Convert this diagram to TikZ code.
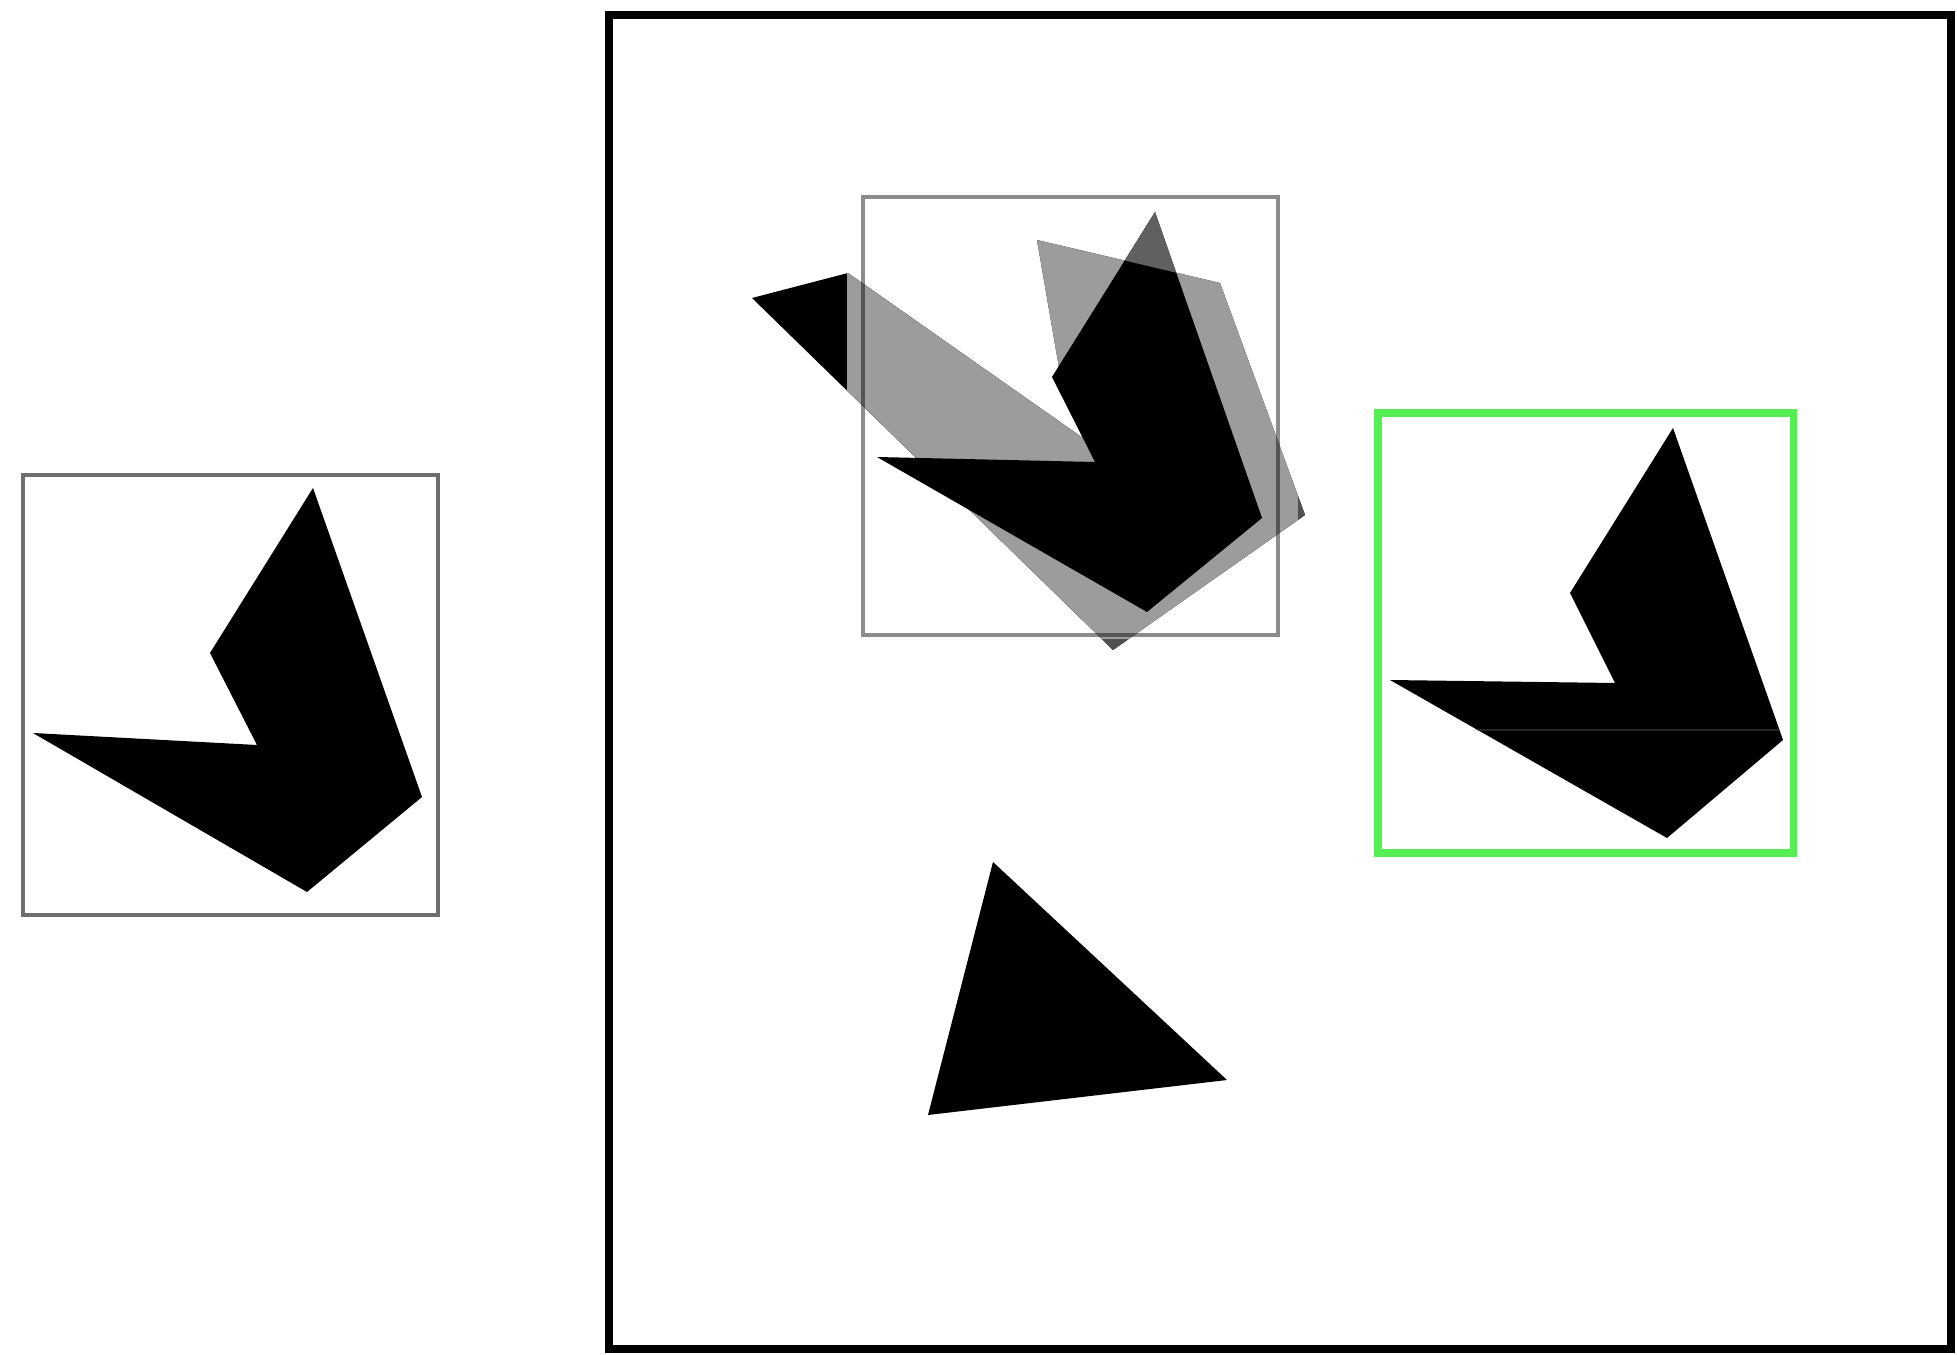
\documentclass[tikz,border=0pt]{standalone}
\definecolor{boxgrey}{RGB}{110,110,110}
\definecolor{softgrey}{RGB}{156,156,156}
\definecolor{darkbit}{RGB}{80,80,80}
\definecolor{tipgrey}{RGB}{96,96,96}
\definecolor{detgreen}{RGB}{85,238,85}
\begin{document}
\begin{tikzpicture}[x=0.01cm,y=-0.01cm,
  framebox/.style={draw=black,line width=2.3pt},
  refbox/.style={draw=boxgrey,line width=1.4pt},
  searchbox/.style={draw=black,opacity=0.45,line width=1.4pt},
  greenbox/.style={draw=detgreen,line width=2.0pt},
  solid shape/.style={fill=black}]
\useasboundingbox (0,0) rectangle (1957,1355);
\fill[white] (0,0) rectangle (1957,1355);

% left reference patch
\fill[solid shape] (313,488) -- (422,797) -- (307,892) -- (33,733) -- (257,745) -- (210,653) -- cycle;
\draw[refbox] (23,475) rectangle (438,915);

% big frame
\draw[framebox] (609,15) rectangle (1951,1349);

% shifted (ghost) shape S2
\def\ghost{(752,298) -- (848,273) -- (1100,450) -- (1062,385) -- (1037,240) -- (1220,283) -- (1305,515) -- (1113,650) -- cycle}
\fill[black] \ghost;
\begin{scope}
  \clip (847,190) rectangle (1298,640);
  \fill[softgrey] \ghost;
\end{scope}
\begin{scope}
  \clip (1298,190) rectangle (1400,700);
  \fill[darkbit] \ghost;
\end{scope}
\begin{scope}
  \clip (847,640) rectangle (1298,700);
  \fill[darkbit] \ghost;
\end{scope}

% current shape S1
\def\cur{(1155,212) -- (1262,518) -- (1147,612) -- (877,457) -- (1095,462) -- (1052,377) -- cycle}
\fill[solid shape] \cur;
\begin{scope}
  \clip (1000,150) -- (1300,150) -- (1300,302) -- (1000,231) -- cycle;
  \fill[tipgrey] \cur;
\end{scope}
\draw[searchbox] (863,197) rectangle (1278,635);

% detected shape in green box
\def\det{(1673,428) -- (1783,740) -- (1667,838) -- (1390,680) -- (1615,683) -- (1570,593) -- cycle}
\fill[solid shape] \det;
\begin{scope}
  \clip \det;
  \draw[line width=0.4pt,black!85] (1380,730) -- (1800,730);
\end{scope}
\draw[greenbox] (1378,413) rectangle (1793,853);

% triangle
\fill[solid shape] (993,862) -- (1227,1080) -- (928,1115) -- cycle;
\end{tikzpicture}
\end{document}
